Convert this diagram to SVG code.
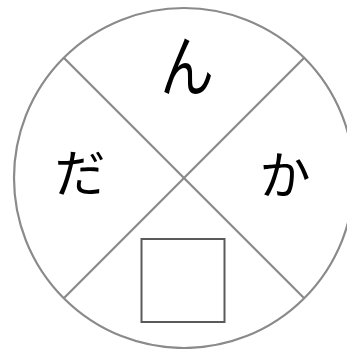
<svg xmlns="http://www.w3.org/2000/svg" width="347" height="349" viewBox="0 0 347 349">
<style>
.ring{fill:#fff;stroke:#8a8a8a;stroke-width:2.2}
.div{stroke:#8a8a8a;stroke-width:2.2;fill:none}
.box{fill:#fff;stroke:#5a5a5a;stroke-width:2}
.lbl{font-family:"Noto Sans CJK JP","Noto Sans CJK SC",sans-serif;font-size:51px;fill:#000;text-anchor:middle}
</style>
<rect width="347" height="349" fill="#fff"/>
<g id="circle"><circle class="ring" cx="184" cy="178" r="170"/></g>
<g id="connectors">
<line class="div" x1="63.8" y1="57.8" x2="304.2" y2="298.2"/>
<line class="div" x1="304.2" y1="57.8" x2="63.8" y2="298.2"/>
</g>
<g id="n-top"><text class="lbl" x="0" y="0" transform="translate(187,91) scale(1.05,1.32)">ん</text></g>
<g id="n-left"><text class="lbl" x="80" y="192">だ</text></g>
<g id="n-right"><text class="lbl" x="285" y="194">か</text></g>
<g id="n-bottom"><rect class="box" x="141.5" y="239" width="83" height="83"/></g>
</svg>
